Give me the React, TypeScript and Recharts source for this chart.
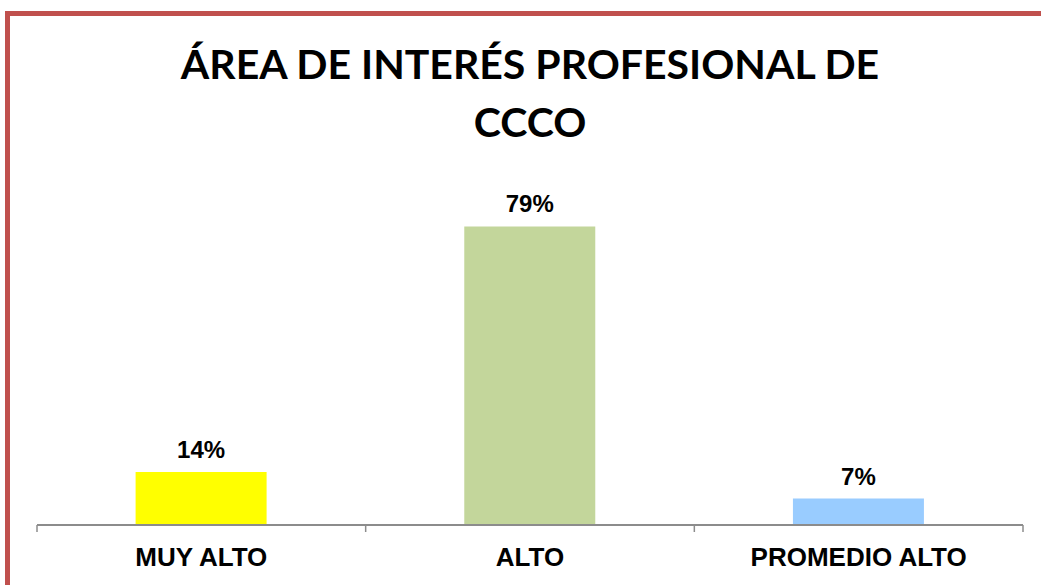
import React from 'react';
import { BarChart, Bar, XAxis, YAxis, Cell, LabelList } from 'recharts';

// values
const categories = ['MUY ALTO', 'ALTO', 'PROMEDIO ALTO'];
const percentages = [14, 79, 7];
const barColors = ['#FFFF00', '#C3D69B', '#99CCFF'];
const titleLines = ['ÁREA DE INTERÉS PROFESIONAL DE', 'CCCO'];

const data = categories.map((name, i) => ({ name, value: percentages[i] }));

const TICK_SIZE = 7;
const TICK_MARGIN = 16;
const AXIS_COLOR = '#8C8C8C';

// category label plus tick marks on the band edges (Excel style)
const CategoryTick = (props: any) => {
  const { x, y, payload, index, visibleTicksCount } = props;
  const half = payload?.offset ?? 0;
  const axisY = y - TICK_SIZE - TICK_MARGIN;
  return (
    <g>
      <line x1={x - half} x2={x - half} y1={axisY} y2={axisY + TICK_SIZE} stroke={AXIS_COLOR} strokeWidth={1.5} />
      {index === visibleTicksCount - 1 && (
        <line x1={x + half} x2={x + half} y1={axisY} y2={axisY + TICK_SIZE} stroke={AXIS_COLOR} strokeWidth={1.5} />
      )}
      <text
        x={x}
        y={y}
        dy="0.71em"
        textAnchor="middle"
        fill="#000"
        fontSize={26}
        fontWeight="bold"
        fontFamily="'Liberation Sans', Arial, sans-serif"
      >
        {payload.value}
      </text>
    </g>
  );
};

export default function App() {
  return (
    <div
      style={{
        position: 'absolute',
        left: 0,
        top: 0,
        width: 1041,
        height: 585,
        overflow: 'hidden',
        background: '#fff',
        fontFamily: "'Liberation Sans', Arial, sans-serif",
      }}
    >
      <div
        style={{
          position: 'absolute',
          left: 5,
          top: 11,
          width: 2000,
          height: 2000,
          borderLeft: '5px solid #C0504D',
          borderTop: '5px solid #C0504D',
        }}
      />
      <svg width={1041} height={160} style={{ position: 'absolute', left: 0, top: 0 }}>
        {titleLines.map((line, i) => (
          <text
            key={line}
            x={530}
            y={79 + i * 58}
            textAnchor="middle"
            fontFamily="Lato, 'Open Sans', sans-serif"
            fontWeight="bold"
            fontSize={41}
            fill="#000"
          >
            {line}
          </text>
        ))}
      </svg>
      <div style={{ position: 'absolute', left: 0, top: 0 }}>
        <BarChart
          width={1041}
          height={585}
          data={data}
          margin={{ top: 147, right: 18, left: 37, bottom: 0 }}
          barCategoryGap="30%"
        >
          <XAxis
            dataKey="name"
            height={60}
            tickLine={false}
            tickSize={TICK_SIZE}
            tickMargin={TICK_MARGIN}
            axisLine={{ stroke: AXIS_COLOR, strokeWidth: 2 }}
            tick={<CategoryTick />}
            interval={0}
          />
          <YAxis hide domain={[0, 100]} />
          <Bar dataKey="value" isAnimationActive={false}>
            {data.map((d, i) => (
              <Cell key={d.name} fill={barColors[i]} />
            ))}
            <LabelList
              dataKey="value"
              position="top"
              offset={14}
              formatter={(v: any) => `${v}%`}
              fill="#000"
              fontSize={24}
              fontWeight="bold"
              fontFamily="'Liberation Sans', Arial, sans-serif"
            />
          </Bar>
        </BarChart>
      </div>
    </div>
  );
}
